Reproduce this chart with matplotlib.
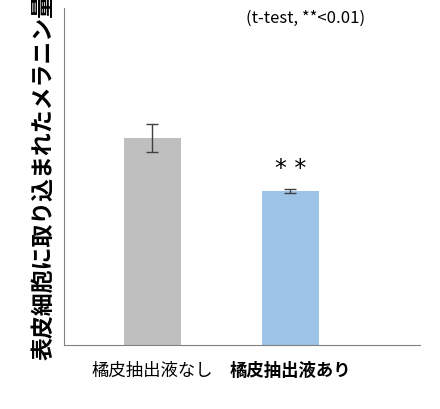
import matplotlib
matplotlib.use("Agg")
import matplotlib.pyplot as plt

plt.rcParams["font.family"] = ["Noto Sans CJK JP", "DejaVu Sans"]

categories = ["橘皮抽出液なし", "橘皮抽出液あり"]
values = [61.4, 45.7]
errors = [4.2, 0.6]
colors = ["#BFBFBF", "#9DC3E6"]

fig = plt.figure(figsize=(4.40, 4.09), dpi=100)
ax = fig.add_axes([0.145, 0.156, 0.81, 0.824])
x = range(len(categories))
ax.bar(x, values, width=0.41, color=colors, yerr=errors,
       error_kw={"ecolor": "#404040", "elinewidth": 1, "capsize": 4, "capthick": 1})
ax.set_xlim(-0.64, 1.94)
ax.set_ylim(0, 100)
ax.set_yticks([])
ax.set_xticks(list(x))
ax.set_xticklabels(categories, fontsize=12.5)
ax.get_xticklabels()[1].set_fontweight("bold")
ax.tick_params(axis="x", length=0, pad=12)
for s in ["top", "right"]:
    ax.spines[s].set_visible(False)
for s in ["left", "bottom"]:
    ax.spines[s].set_color("#808080")

ax.text(1, values[1] + 3, "* *", ha="center", va="bottom", fontsize=17, family="DejaVu Sans")
ax.text(1.11, 97, "(t-test, **<0.01)", ha="center", va="center", fontsize=12)
ax.set_ylabel("表皮細胞に取り込まれたメラニン量", fontsize=16.5, fontweight="bold", labelpad=6)

fig.savefig("out.png", dpi=100)
